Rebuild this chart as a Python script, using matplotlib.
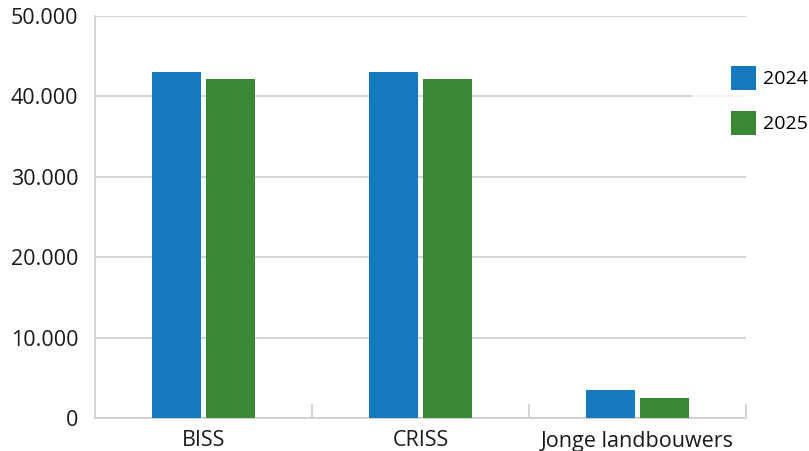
import numpy as np
import matplotlib.pyplot as plt
from matplotlib.ticker import FuncFormatter

plt.rcParams['font.family'] = ['Open Sans', 'DejaVu Sans']

categories = ['BISS', 'CRISS', 'Jonge landbouwers']
jaren = ['2024', '2025']
waarden_2024 = [43000, 43000, 3500]
waarden_2025 = [42200, 42200, 2500]
kleuren = ['#1579be', '#3a8835']

fig = plt.figure(figsize=(8.09, 4.51), dpi=100)
ax = fig.add_axes([95 / 809, 1 - 418 / 451, 651 / 809, 402 / 451])

x = np.arange(len(categories))
w = 0.226
ax.bar(x - w / 2 - 0.0115, waarden_2024, width=w, color=kleuren[0], label=jaren[0], zorder=3)
ax.bar(x + w / 2 + 0.0115, waarden_2025, width=w, color=kleuren[1], label=jaren[1], zorder=3)

ax.set_xlim(-0.5, len(categories) - 0.5)
ax.set_ylim(0, 50000)
ax.set_yticks(np.arange(0, 50001, 10000))
ax.yaxis.set_major_formatter(FuncFormatter(lambda v, p: f'{int(v):,}'.replace(',', '.')))
ax.grid(axis='y', color='#cccccc', linewidth=1.2, zorder=0)
ax.set_axisbelow(True)

ax.set_xticks(x)
ax.set_xticklabels(categories)
ax.set_xticks(np.arange(0.5, len(categories), 1), minor=True)
ax.tick_params(axis='x', which='major', length=0, pad=9, labelsize=15.5, colors='#1a1a1a')
ax.tick_params(axis='x', which='minor', direction='in', length=10, width=1.2, color='#cccccc')
ax.tick_params(axis='y', length=0, pad=12, labelsize=15.5, colors='#1a1a1a')

for s in ['top', 'right']:
    ax.spines[s].set_visible(False)
for s in ['left', 'bottom']:
    ax.spines[s].set_color('#cccccc')
    ax.spines[s].set_linewidth(1.2)

leg = fig.legend(loc='upper left', bbox_to_anchor=(692 / 809, 1 - 27 / 451),
                 frameon=True, fontsize=14, handlelength=1.27, handleheight=1.53,
                 handletextpad=0.4, labelspacing=1.06, borderpad=2.0, borderaxespad=0)
leg.get_frame().set_facecolor('white')
leg.get_frame().set_edgecolor('none')
leg.get_frame().set_boxstyle('square', pad=0)

fig.savefig('out.png', dpi=100)
